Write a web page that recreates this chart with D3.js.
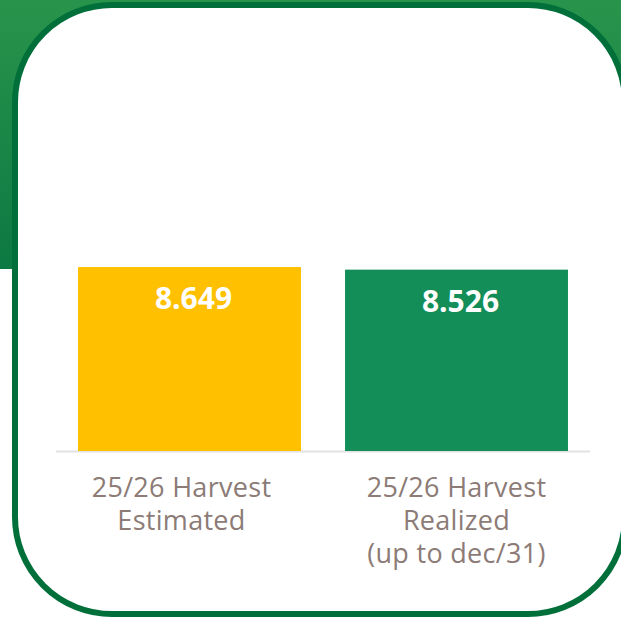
<!DOCTYPE html>
<html><head><meta charset="utf-8">
<script src="https://cdn.jsdelivr.net/npm/d3@7"></script>
<style>html,body{margin:0;padding:0;background:#fff;}svg{display:block;}</style>
</head><body>
<script>
const categories = ["25/26 Harvest\nEstimated", "25/26 Harvest\nRealized\n(up to dec/31)"];
const values = [8.649, 8.526];
const valueLabels = ["8.649", "8.526"];
const barColors = ["#FFC000", "#138E58"];

const W = 621, H = 621;
const svg = d3.select("body").append("svg").attr("width", W).attr("height", H);
const defs = svg.append("defs");
const grad = defs.append("linearGradient").attr("id", "bg").attr("x1", 0).attr("y1", 0).attr("x2", 0).attr("y2", 1);
grad.append("stop").attr("offset", "0%").attr("stop-color", "#28944B");
grad.append("stop").attr("offset", "100%").attr("stop-color", "#0D7943");

svg.append("rect").attr("x", 0).attr("y", 0).attr("width", W).attr("height", 269).attr("fill", "url(#bg)");
svg.append("rect").attr("x", 15).attr("y", 5).attr("width", 610).attr("height", 609)
  .attr("rx", 97).attr("ry", 97).attr("fill", "#fff").attr("stroke", "#006F3A").attr("stroke-width", 6);

const x = d3.scaleBand().domain(categories).range([56, 590]).paddingInner(0.165).paddingOuter(0.0825);
const y = d3.scaleLinear().domain([0, 10]).range([451, 238.3]);

const g = svg.append("g");
g.append("line").attr("x1", 56).attr("x2", 590).attr("y1", 451.5).attr("y2", 451.5)
  .attr("stroke", "#E2E2E2").attr("stroke-width", 2);

g.selectAll("rect.bar").data(values).join("rect").attr("class", "bar")
  .attr("x", (d, i) => x(categories[i])).attr("width", x.bandwidth())
  .attr("y", d => y(d)).attr("height", d => y(0) - y(d))
  .attr("fill", (d, i) => barColors[i]);

g.selectAll("text.val").data(values).join("text").attr("class", "val")
  .attr("x", (d, i) => x(categories[i]) + x.bandwidth() / 2 + 4)
  .attr("y", d => y(d) + 42)
  .attr("text-anchor", "middle").attr("fill", "#fff")
  .attr("font-family", "'Open Sans', sans-serif").attr("font-weight", 700).attr("font-size", 30)
  .text((d, i) => valueLabels[i]);

categories.forEach((c, i) => {
  const t = g.append("text").attr("text-anchor", "middle").attr("fill", "#8C7B76")
    .attr("font-family", "'Open Sans', sans-serif").attr("font-size", 27).attr("letter-spacing", 0.3);
  c.split("\n").forEach((line, j) => {
    t.append("tspan").attr("x", x(c) + x.bandwidth() / 2 - (i === 0 ? 8 : 0)).attr("y", 497 + j * 33).text(line);
  });
});
</script>
</body></html>
